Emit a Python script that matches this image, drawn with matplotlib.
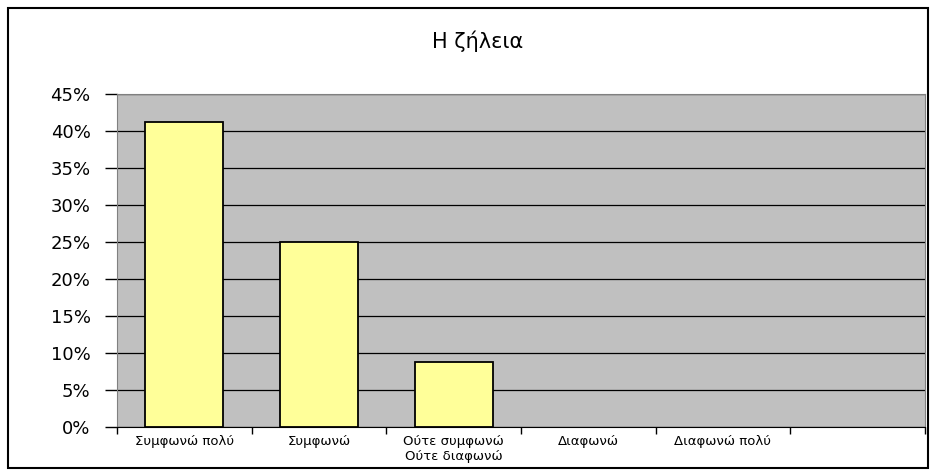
import matplotlib.pyplot as plt
from matplotlib.patches import Rectangle
from matplotlib.ticker import PercentFormatter, FixedLocator, NullFormatter

plt.rcParams['font.family'] = ['DejaVu Sans']

categories = ["Συμφωνώ πολύ", "Συμφωνώ", "Ούτε συμφωνώ\nΟύτε διαφωνώ",
              "Διαφωνώ", "Διαφωνώ πολύ", ""]
values = [41.25, 25.0, 8.75, 0, 0, 0]
title = "Η ζήλεια"

fig = plt.figure(figsize=(9.32, 4.76), dpi=100)
ax = fig.add_axes([117 / 932, 1 - 427 / 476, 808 / 932, 333 / 476])

# outer chart border
fig.patches.append(Rectangle((8 / 932, 8 / 476), 920 / 932, 460 / 476,
                             transform=fig.transFigure, fill=False,
                             edgecolor="black", linewidth=1.5))

ax.set_facecolor("#C0C0C0")
x = list(range(len(categories)))
# empty categories get no outline
edge_w = [1.3 if v > 0 else 0 for v in values]
ax.bar(x, values, width=0.58, color="#FFFF99", edgecolor="black",
       linewidth=edge_w, zorder=3)

ax.set_xlim(-0.5, len(categories) - 0.5)
ax.set_ylim(0, 45)
ax.set_yticks(range(0, 46, 5))
ax.yaxis.set_major_formatter(PercentFormatter(decimals=0))
ax.yaxis.grid(True, color="black", linewidth=0.9, zorder=1)
ax.tick_params(axis="y", length=9, width=1, labelsize=13, pad=10)

# category labels centred, tick marks at the boundaries
ax.set_xticks(x)
ax.set_xticklabels(categories, fontsize=9.5, linespacing=1.2)
ax.tick_params(axis="x", which="major", length=0, pad=6)
ax.xaxis.set_minor_locator(FixedLocator([i - 0.5 for i in range(len(categories) + 1)]))
ax.xaxis.set_minor_formatter(NullFormatter())
ax.tick_params(axis="x", which="minor", length=5, width=1)

for side in ["top", "right", "left"]:
    ax.spines[side].set_color("#808080")
ax.spines["bottom"].set_color("black")

fig.text(478 / 932, 1 - 41 / 476, title, ha="center", va="center", fontsize=15)

fig.savefig("out.png", dpi=100)
